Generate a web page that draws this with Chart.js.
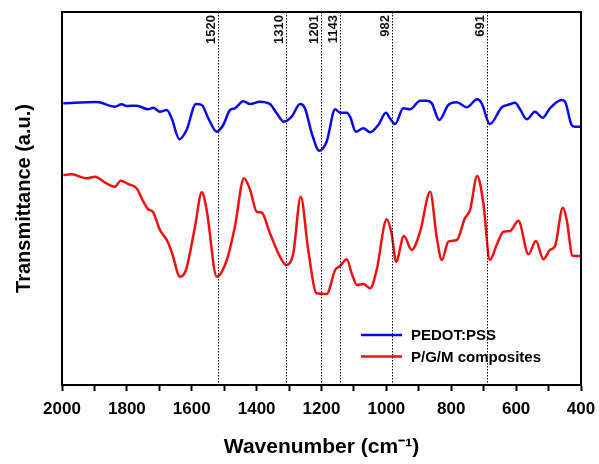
<!DOCTYPE html>
<html>
<head>
<meta charset="utf-8">
<script src="https://cdn.jsdelivr.net/npm/chart.js@4"></script>
<style>
  html, body { margin: 0; padding: 0; background: #fff; }
  #wrap { width: 599px; height: 464px; }
</style>
</head>
<body>
<div id="wrap"><canvas id="ftir"></canvas></div>
<script>
// wavenumber (cm-1) and transmittance (arbitrary units)
const pedotX = [1996, 1893, 1837, 1816, 1801, 1770, 1734, 1719, 1698, 1677, 1662, 1638, 1616, 1587, 1569, 1549, 1523, 1503, 1482, 1467, 1441, 1420, 1390, 1359, 1338, 1316, 1292, 1266, 1251, 1230, 1207, 1184, 1158, 1143, 1122, 1112, 1094, 1071, 1050, 1025, 1001, 989, 973, 948, 927, 896, 876, 860, 837, 809, 783, 752, 720, 706, 681, 644, 619, 603, 588, 567, 542, 518, 496, 460, 449, 429, 418, 403];
const pedotY = [281.7, 283, 278.3, 280.7, 279, 279.3, 275.7, 277.3, 273.3, 275, 266.7, 245.7, 255, 281, 280, 266.7, 253.3, 260, 275, 276.7, 283.7, 281, 283.3, 281, 271.7, 263.3, 268.3, 281, 276.7, 251.7, 234.3, 243.5, 275.7, 272.3, 272.3, 268.3, 253.3, 256.7, 252.7, 260, 272.3, 266.7, 261, 276.7, 275.7, 284.3, 284.3, 281.7, 265, 280, 282.7, 277.7, 285.7, 281.7, 261, 277.7, 280.7, 282.3, 275.7, 265.7, 273.3, 267.3, 276.7, 285, 283.3, 260, 258.3, 258.3];

const pgmX = [1996, 1970, 1924, 1898, 1867, 1837, 1819, 1796, 1770, 1749, 1734, 1720, 1698, 1677, 1662, 1636, 1618, 1590, 1569, 1554, 1523, 1492, 1467, 1439, 1420, 1400, 1384, 1359, 1328, 1309, 1287, 1264, 1241, 1215, 1184, 1158, 1143, 1122, 1107, 1091, 1071, 1050, 1030, 999, 984, 970, 946, 922, 896, 865, 845, 829, 809, 783, 758, 742, 720, 701, 681, 660, 639, 619, 593, 562, 539, 516, 496, 480, 456, 444, 426, 403];
const pgmY = [210, 210.7, 206.7, 208.3, 202.3, 198.3, 204.3, 201, 196.7, 183.3, 175.7, 173.3, 155, 145, 133.3, 108.3, 115, 158.3, 192.7, 175, 108.3, 125, 158.3, 206.7, 195, 173.3, 172.3, 151.7, 128.3, 120, 131.7, 188.3, 135, 91.7, 91, 115, 119, 125.7, 111.7, 100, 101, 96.7, 115, 165.7, 151.7, 123.3, 149, 135, 153.3, 193.3, 148.3, 125, 143.3, 145, 166.7, 175, 209, 181.7, 125, 140, 153.3, 154, 164.3, 130.7, 144, 125.7, 135, 139, 177.3, 165, 129.3, 129];

const seriesNames = ["PEDOT:PSS", "P/G/M composites"];
const peakMarks = [1520, 1310, 1201, 1143, 982, 691];
const xTicks = [2000, 1800, 1600, 1400, 1200, 1000, 800, 600, 400];

function toPoints(xs, ys) {
  return xs.map((x, i) => ({ x: x, y: ys[i] }));
}

// dotted peak markers with rotated labels, frame and legend
const extras = {
  id: "extras",
  afterDatasetsDraw(chart) {
    const ctx = chart.ctx;
    const area = chart.chartArea;
    const xs = chart.scales.x;
    ctx.save();
    ctx.strokeStyle = "#000";
    ctx.lineWidth = 1;
    ctx.setLineDash([1.5, 1.5]);
    peakMarks.forEach(p => {
      const px = Math.round(xs.getPixelForValue(p)) + 0.5;
      ctx.beginPath();
      ctx.moveTo(px, area.top);
      ctx.lineTo(px, area.bottom);
      ctx.stroke();
    });
    ctx.setLineDash([]);
    ctx.fillStyle = "#111";
    ctx.font = "bold 13px 'Liberation Sans', Arial, sans-serif";
    ctx.textAlign = "right";
    ctx.textBaseline = "alphabetic";
    peakMarks.forEach(p => {
      const px = xs.getPixelForValue(p);
      ctx.save();
      ctx.translate(px - 3, area.top + 3);
      ctx.rotate(-Math.PI / 2);
      ctx.fillText(String(p), 0, 0);
      ctx.restore();
    });

    // frame
    ctx.lineWidth = 2;
    ctx.strokeStyle = "#000";
    ctx.strokeRect(area.left, area.top, area.right - area.left, area.bottom - area.top);

    // legend
    ctx.font = "bold 15px 'Liberation Sans', Arial, sans-serif";
    ctx.textAlign = "left";
    ctx.textBaseline = "middle";
    chart.data.datasets.forEach((ds, i) => {
      const y = 335 + i * 21.5;
      ctx.strokeStyle = ds.borderColor;
      ctx.lineWidth = 2.5;
      ctx.beginPath();
      ctx.moveTo(361, y);
      ctx.lineTo(402, y);
      ctx.stroke();
      ctx.fillStyle = "#000";
      ctx.fillText(ds.label, 411, y + 1);
    });
    ctx.restore();
  }
};

new Chart(document.getElementById("ftir"), {
  type: "line",
  data: {
    datasets: [
      {
        label: seriesNames[0],
        data: toPoints(pedotX, pedotY),
        borderColor: "#0a0ae6",
        borderWidth: 2.5,
        pointRadius: 0,
        fill: false,
        cubicInterpolationMode: "monotone"
      },
      {
        label: seriesNames[1],
        data: toPoints(pgmX, pgmY),
        borderColor: "#f01010",
        borderWidth: 2.5,
        pointRadius: 0,
        fill: false,
        cubicInterpolationMode: "monotone"
      }
    ]
  },
  options: {
    responsive: true,
    maintainAspectRatio: false,
    animation: false,
    layout: { padding: { left: 0, right: 18, top: 12, bottom: 0 } },
    plugins: {
      legend: { display: false },
      tooltip: { enabled: false }
    },
    scales: {
      x: {
        type: "linear",
        reverse: true,
        min: 400,
        max: 2000,
        afterFit: scale => {
          scale.height = 79;
          scale.paddingLeft = 0;
          scale.paddingRight = 0;
        },
        afterBuildTicks: scale => {
          const t = [];
          for (let v = 2000; v >= 400; v -= 100) t.push({ value: v });
          scale.ticks = t;
        },
        grid: {
          drawOnChartArea: false,
          drawTicks: true,
          tickLength: 6,
          tickWidth: 2,
          tickColor: "#000"
        },
        border: { display: true, color: "#000", width: 2 },
        ticks: {
          color: "#000",
          padding: 8,
          maxRotation: 0,
          autoSkip: false,
          font: { family: "'Liberation Sans', Arial, sans-serif", size: 17, weight: "bold" },
          callback: v => (xTicks.includes(v) ? String(v) : "")
        },
        title: {
          display: true,
          text: "Wavenumber (cm⁻¹)",
          color: "#000",
          padding: { top: 0, bottom: 4 },
          font: { family: "'Liberation Sans', Arial, sans-serif", size: 21, weight: "bold" }
        }
      },
      y: {
        min: 0,
        max: 373,
        afterFit: scale => { scale.width = 62; },
        grid: { display: false },
        border: { display: true, color: "#000", width: 2 },
        ticks: { display: false },
        title: {
          display: true,
          text: "Transmittance (a.u.)",
          color: "#000",
          padding: { top: 12, bottom: 0 },
          font: { family: "'Liberation Sans', Arial, sans-serif", size: 20, weight: "bold" }
        }
      }
    }
  },
  plugins: [extras]
});
</script>
</body>
</html>
